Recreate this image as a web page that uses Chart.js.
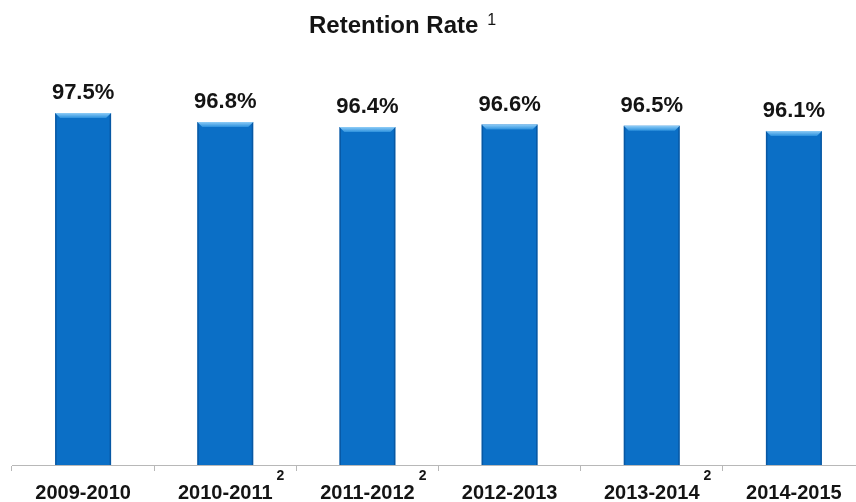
<!DOCTYPE html>
<html>
<head>
<meta charset="utf-8">
<script src="https://cdn.jsdelivr.net/npm/chart.js@4"></script>
<style>
  html, body { margin: 0; padding: 0; background: #fff; overflow: hidden; }
  #wrap { position: absolute; left: 0; top: 0; width: 870px; height: 516px; }
</style>
</head>
<body>
<div id="wrap"><canvas id="myChart"></canvas></div>
<script>
const categories = ["2009-2010", "2010-2011", "2011-2012", "2012-2013", "2013-2014", "2014-2015"];
const retention = [97.5, 96.8, 96.4, 96.6, 96.5, 96.1];
const notes = ["", "2", "2", "", "2", ""];
const titleText = "Retention Rate";
const titleNote = "1";

const FONT = "'Liberation Sans', Arial, sans-serif";

// title with its footnote marker, drawn straight on the canvas
const titlePlugin = {
  id: "noteTitle",
  afterDraw(chart) {
    const ctx = chart.ctx;
    ctx.save();
    ctx.fillStyle = "#141414";
    ctx.textBaseline = "alphabetic";
    ctx.font = "bold 24px " + FONT;
    const w = ctx.measureText(titleText).width;
    const x0 = 309;
    ctx.textAlign = "left";
    ctx.fillText(titleText, x0, 33);
    ctx.font = "16px " + FONT;
    ctx.fillText(titleNote, x0 + w + 9, 25);
    ctx.restore();
  }
};

// bevelled bar tops, value labels and footnote marks on the x labels
const barDecor = {
  id: "barDecor",
  afterDatasetsDraw(chart) {
    const ctx = chart.ctx;
    const meta = chart.getDatasetMeta(0);
    const xScale = chart.scales.x;
    const bottom = chart.chartArea.bottom;
    ctx.save();
    meta.data.forEach((bar, i) => {
      const { x, y, width } = bar.getProps(["x", "y", "width"], true);
      const l = x - width / 2, r = x + width / 2, b = 5;

      ctx.fillStyle = "rgba(0, 45, 100, 0.35)";
      ctx.fillRect(l, y, 1.5, bottom - y);
      ctx.fillRect(r - 1.5, y, 1.5, bottom - y);

      const g = ctx.createLinearGradient(0, y, 0, y + b);
      g.addColorStop(0, "#8fcdf7");
      g.addColorStop(1, "#2b90dd");
      ctx.fillStyle = g;
      ctx.beginPath();
      ctx.moveTo(l, y);
      ctx.lineTo(r, y);
      ctx.lineTo(r - b, y + b);
      ctx.lineTo(l + b, y + b);
      ctx.closePath();
      ctx.fill();

      ctx.fillStyle = "#141414";
      ctx.font = "bold 22px " + FONT;
      ctx.textAlign = "center";
      ctx.textBaseline = "alphabetic";
      ctx.fillText(retention[i].toFixed(1) + "%", x, y - 14);

      if (notes[i]) {
        ctx.font = "bold 20px " + FONT;
        const lw = ctx.measureText(categories[i]).width;
        ctx.font = "bold 14px " + FONT;
        ctx.textAlign = "left";
        ctx.fillText(notes[i], xScale.getPixelForValue(i) + lw / 2 + 4, 480);
      }
    });
    ctx.restore();
  }
};

const data = {
  labels: categories,
  datasets: [
    {
      label: "Retention Rate",
      data: retention,
      backgroundColor: "#0b6fc6",
      borderWidth: 0,
      barPercentage: 0.394,
      categoryPercentage: 1.0,
    },
  ],
};

const config = {
  type: "bar",
  data: data,
  options: {
    responsive: true,
    maintainAspectRatio: false,
    animation: false,
    layout: {
      padding: { top: 81, left: 12, right: 5, bottom: 1 },
    },
    plugins: {
      legend: { display: false },
      title: { display: false },
      tooltip: { enabled: false },
    },
    scales: {
      x: {
        border: { display: true, color: "#b8b8b8", width: 1 },
        grid: {
          display: true,
          offset: true,
          drawOnChartArea: false,
          drawTicks: true,
          tickLength: 6,
          color: "#b8b8b8",
        },
        ticks: {
          color: "#141414",
          padding: 10,
          maxRotation: 0,
          font: { family: FONT, size: 20, weight: "bold" },
        },
      },
      y: {
        display: false,
        min: 70,
        max: 100,
      },
    },
  },
  plugins: [titlePlugin, barDecor],
};

new Chart(document.getElementById("myChart"), config);
</script>
</body>
</html>
